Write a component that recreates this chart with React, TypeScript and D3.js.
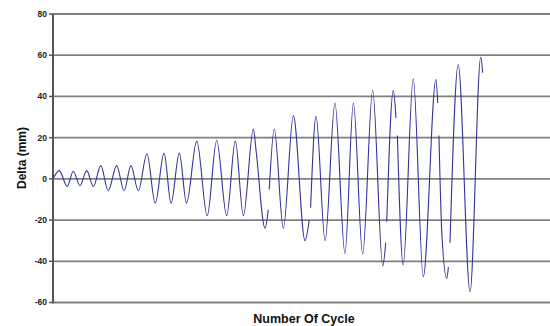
import React from 'react';
import * as d3 from 'd3';

// cycle position (x) and delta in mm (y); null marks a break in the recorded trace
const cycles: (number | null)[] = [
  0.0, 0.31, 0.71, 1.01, 1.34, 1.68, 2.01, 2.38, 2.75, 3.17, 3.54, 3.88, 4.25,
  4.68, 5.09, 5.53, 5.88, 6.29, 6.65, 7.16, 7.68, 8.15, 8.65, 9.08, 9.48,
  9.98, 10.11, 10.56, 10.72, null,
  10.77, 11.02, 11.47, 11.97, 12.55, 12.76, null,
  12.83, 13.1, 13.55, 14.04, 14.54, 14.96, 15.42, 15.92, 16.42, 16.57, null,
  16.62, 16.95, 17.08, null,
  17.15, 17.44, 17.94, 18.44, 19.07, 19.16, null,
  19.22, 19.36, 19.61, 19.69, null,
  19.77, 20.18, 20.77, 21.3, 21.4,
];
const deltas: (number | null)[] = [
  0, 4, -3.7, 3.7, -3.3, 4, -3.7, 6.4, -5.8, 6.4, -5.8, 6.4, -5.8,
  12.2, -11.8, 12.5, -11.8, 12.5, -11.8, 18.3, -17.9, 18.6, -17.9, 18.3, -17.9,
  24.2, 14, -24, -15, null,
  -5.2, 24.2, -24, 30.7, -30, -20, null,
  -14, 30.3, -30, 36.8, -36.2, 36.8, -36.5, 43, -42.3, -31, null,
  -20.8, 43, 29.5, null,
  21, -41.8, 48.5, -47.5, 48.2, 36.8, null,
  21, -25.5, -48.3, -42.7, null,
  -31, 55.5, -54.8, 59, 51.5,
];
const yTicks = [80, 60, 40, 20, 0, -20, -40, -60];

const W = 550;
const H = 326;
const left = 53;
const right = 555;
const top = 14;
const bottom = 302.5;

export default function App() {
  const x = d3.scaleLinear().domain([0, 25]).range([left, right]);
  const y = d3.scaleLinear().domain([-60, 80]).range([bottom, top]);

  const pts = cycles.map((c, i) => ({ c, d: deltas[i] }));
  const line = d3
    .line<{ c: number | null; d: number | null }>()
    .defined((p) => p.c !== null && p.d !== null)
    .x((p) => x(p.c as number))
    .y((p) => y(p.d as number))
    .curve(d3.curveMonotoneX);

  return (
    <svg
      width={W}
      height={H}
      style={{ position: 'absolute', left: 0, top: 0, background: '#fff' }}
      fontFamily="Liberation Sans, Arial, sans-serif"
    >
      {yTicks.map((t) => (
        <g key={t}>
          <line x1={left} x2={W} y1={y(t)} y2={y(t)} stroke="#808080" strokeWidth={1.8} />
          <line x1={left - 4} x2={left} y1={y(t)} y2={y(t)} stroke="#555" strokeWidth={1.5} />
          <text
            x={left - 6}
            y={y(t)}
            dy="0.35em"
            textAnchor="end"
            fontSize={8.5}
            fontWeight="bold"
            fill="#222"
          >
            {t}
          </text>
        </g>
      ))}
      <line x1={left} x2={left} y1={top} y2={bottom + 1} stroke="#555" strokeWidth={2} />
      <path d={line(pts) ?? ''} fill="none" stroke="#33339b" strokeWidth={1.1} />
      <text
        transform={`translate(26,158) rotate(-90)`}
        textAnchor="middle"
        fontSize={12}
        fontWeight="bold"
        fill="#111"
      >
        Delta (mm)
      </text>
      <text x={304} y={322.5} textAnchor="middle" fontSize={12.5} fontWeight="bold" fill="#111">
        Number Of Cycle
      </text>
    </svg>
  );
}
